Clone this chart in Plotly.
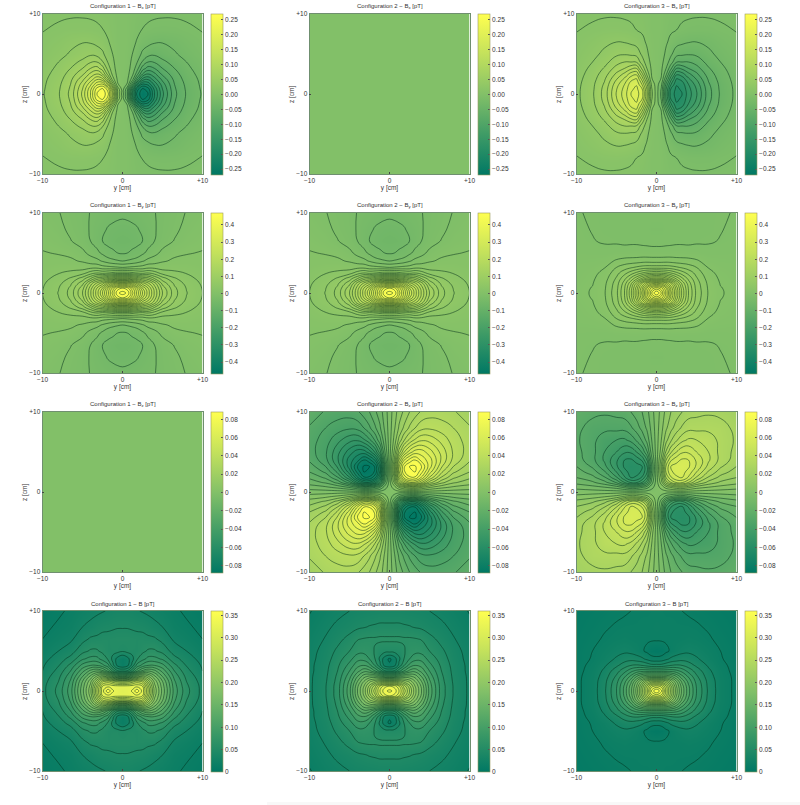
import plotly.graph_objects as go

# Quadrant tables: rows follow |z|, columns follow |y| (values in pT)
GRID_CM = [0, 0.6, 1.2, 1.8, 2.5, 3.2, 4, 5, 6.5, 8, 10]

BX_C1 = [
 [0,.05,.16,.235,.265,.25,.19,.135,.075,.048,.028],
 [0,.045,.14,.22,.255,.24,.185,.13,.073,.047,.027],
 [0,.012,.08,.16,.215,.205,.165,.12,.07,.045,.026],
 [0,.006,.04,.10,.16,.17,.14,.105,.065,.042,.025],
 [0,.004,.022,.06,.11,.13,.115,.085,.058,.038,.023],
 [0,.003,.016,.04,.08,.098,.09,.07,.05,.034,.021],
 [0,.002,.013,.028,.052,.07,.068,.055,.042,.03,.018],
 [0,.002,.0095,.019,.034,.042,.046,.04,.032,.024,.015],
 [0,.001,.006,.011,.02,.024,.028,.029,.025,.018,.012],
 [0,.001,.004,.007,.0105,.0125,.014,.0145,.014,.012,.0095],
 [0,.001,.003,.005,.006,.0072,.008,.0085,.0085,.008,.007],
]
BX_C3 = [
 [0,.035,.115,.18,.197,.19,.16,.132,.078,.047,.025],
 [0,.032,.11,.172,.195,.186,.157,.129,.077,.046,.025],
 [0,.025,.095,.148,.188,.18,.15,.122,.073,.045,.024],
 [0,.012,.07,.125,.175,.165,.136,.11,.068,.042,.023],
 [0,.008,.045,.095,.145,.138,.115,.094,.06,.039,.021],
 [0,.006,.03,.065,.11,.105,.09,.078,.052,.035,.019],
 [0,.004,.02,.04,.068,.07,.07,.062,.043,.03,.017],
 [0,.003,.013,.026,.043,.046,.048,.046,.034,.025,.015],
 [0,.002,.008,.014,.022,.026,.029,.03,.026,.019,.012],
 [0,.001,.005,.008,.01,.0125,.014,.015,.0145,.012,.0095],
 [0,.001,.003,.005,.006,.0072,.008,.0085,.0085,.008,.007],
]
BY_C1 = [
 [.46,.445,.40,.345,.29,.24,.187,.13,.077,.051,.03],
 [.43,.42,.38,.33,.27,.23,.18,.122,.074,.049,.029],
 [.33,.325,.30,.265,.22,.195,.16,.103,.066,.044,.027],
 [.2,.2,.185,.17,.15,.14,.11,.08,.053,.037,.024],
 [.08,.08,.076,.07,.065,.07,.06,.042,.035,.029,.02],
 [.01,.012,.014,.016,.018,.024,.024,.021,.022,.02,.016],
 [-.03,-.028,-.025,-.02,-.012,-.004,0,.008,.013,.014,.013],
 [-.052,-.05,-.046,-.044,-.034,-.024,-.016,-.005,.006,.009,.011],
 [-.063,-.062,-.059,-.055,-.05,-.04,-.03,-.019,-.009,0,.006],
 [-.058,-.057,-.055,-.052,-.045,-.04,-.032,-.022,-.014,-.005,.002],
 [-.045,-.044,-.042,-.04,-.037,-.034,-.031,-.023,-.017,-.009,-.003],
]
BY_C3 = [
 [.47,.43,.365,.295,.225,.165,.11,.065,.028,.012,.003],
 [.42,.40,.35,.285,.22,.16,.108,.063,.027,.011,.003],
 [.33,.32,.29,.25,.195,.145,.1,.06,.025,.009,.002],
 [.22,.215,.2,.175,.145,.115,.085,.053,.021,.007,.001],
 [.13,.125,.12,.11,.095,.08,.063,.043,.015,.005,0],
 [.06,.06,.06,.058,.053,.047,.04,.03,.009,.002,-.001],
 [.022,.022,.023,.022,.02,.019,.018,.013,.001,-.002,-.003],
 [-.004,-.004,-.004,-.003,-.003,-.003,-.004,-.004,-.007,-.006,-.005],
 [-.015,-.015,-.014,-.014,-.013,-.013,-.013,-.012,-.011,-.0095,-.007],
 [-.016,-.016,-.015,-.015,-.015,-.015,-.014,-.014,-.013,-.0105,-.008],
 [-.015,-.015,-.015,-.014,-.014,-.014,-.014,-.014,-.013,-.0115,-.009],
]
BZ_C2 = [
 [0,0,0,0,0,0,0,0,0,0,0],
 [0,.006,.016,.022,.027,.028,.022,.016,.011,.008,.006],
 [0,.016,.04,.053,.062,.062,.052,.036,.023,.016,.012],
 [0,.022,.053,.07,.08,.08,.068,.05,.032,.022,.016],
 [0,.027,.062,.08,.085,.087,.077,.06,.04,.028,.021],
 [0,.028,.062,.08,.087,.088,.081,.066,.046,.033,.024],
 [0,.022,.052,.068,.077,.081,.073,.066,.05,.037,.028],
 [0,.016,.036,.05,.06,.066,.066,.06,.049,.038,.03],
 [0,.011,.023,.032,.04,.046,.05,.049,.043,.036,.03],
 [0,.008,.016,.022,.028,.033,.037,.038,.036,.033,.028],
 [0,.006,.012,.016,.021,.024,.028,.03,.03,.028,.022],
]
BZ_C3 = [
 [0,0,0,0,0,0,0,0,0,0,0],
 [0,.005,.012,.016,.02,.021,.017,.012,.009,.007,.005],
 [0,.012,.03,.039,.046,.046,.039,.028,.019,.014,.011],
 [0,.016,.039,.05,.056,.057,.05,.038,.026,.019,.015],
 [0,.02,.046,.056,.059,.059,.055,.045,.032,.024,.018],
 [0,.021,.046,.057,.059,.06,.058,.05,.037,.028,.021],
 [0,.017,.039,.05,.055,.058,.057,.05,.04,.031,.024],
 [0,.012,.028,.038,.045,.05,.05,.045,.039,.031,.025],
 [0,.009,.019,.026,.032,.037,.04,.039,.037,.031,.026],
 [0,.007,.014,.019,.024,.028,.031,.031,.031,.03,.025],
 [0,.005,.011,.015,.018,.021,.024,.025,.026,.025,.022],
]
B_C1 = [
 [.315,.32,.332,.355,.325,.27,.205,.16,.098,.065,.04],
 [.32,.32,.322,.326,.315,.26,.2,.157,.096,.063,.04],
 [.26,.265,.275,.29,.28,.235,.19,.15,.092,.06,.038],
 [.15,.155,.18,.205,.22,.2,.17,.135,.085,.056,.035],
 [.06,.062,.085,.115,.14,.15,.14,.115,.075,.05,.03],
 [.016,.025,.05,.08,.095,.105,.105,.095,.064,.044,.028],
 [.015,.024,.04,.058,.07,.08,.08,.073,.05,.038,.024],
 [.047,.05,.05,.05,.056,.062,.062,.055,.038,.03,.02],
 [.052,.052,.051,.05,.05,.048,.047,.04,.027,.022,.015],
 [.044,.044,.043,.042,.041,.038,.034,.03,.021,.017,.012],
 [.034,.034,.033,.031,.029,.027,.025,.022,.017,.013,.009],
]
B_C2 = [
 [.35,.34,.315,.28,.24,.20,.165,.115,.067,.044,.027],
 [.33,.325,.30,.265,.23,.195,.162,.113,.067,.044,.027],
 [.24,.24,.235,.22,.205,.18,.15,.108,.065,.043,.027],
 [.145,.148,.16,.17,.17,.16,.135,.10,.063,.042,.027],
 [.06,.062,.085,.105,.125,.13,.115,.09,.06,.041,.026],
 [.018,.025,.05,.073,.095,.105,.1,.08,.057,.04,.026],
 [.012,.022,.042,.06,.075,.085,.085,.07,.053,.038,.025],
 [.05,.05,.052,.058,.068,.07,.069,.06,.048,.036,.024],
 [.063,.063,.063,.062,.062,.061,.059,.05,.04,.031,.022],
 [.048,.048,.048,.047,.046,.044,.042,.038,.033,.027,.019],
 [.036,.036,.036,.035,.034,.033,.032,.03,.026,.022,.014],
]
B_C3 = [
 [.36,.335,.28,.235,.185,.145,.11,.075,.042,.022,.012],
 [.32,.31,.27,.228,.18,.142,.108,.074,.041,.022,.012],
 [.25,.245,.23,.2,.165,.13,.1,.07,.04,.022,.012],
 [.165,.165,.165,.155,.135,.11,.088,.063,.037,.021,.012],
 [.10,.10,.10,.10,.095,.085,.07,.054,.033,.02,.011],
 [.05,.05,.055,.06,.062,.06,.053,.042,.028,.018,.011],
 [.02,.021,.027,.033,.037,.04,.038,.032,.023,.016,.01],
 [.004,.006,.012,.017,.022,.025,.027,.025,.02,.015,.01],
 [.017,.017,.017,.018,.018,.019,.02,.019,.016,.013,.009],
 [.019,.018,.018,.018,.017,.017,.017,.016,.014,.011,.008],
 [.017,.017,.016,.016,.016,.015,.014,.013,.011,.009,.007],
]
FLAT = [[0] * len(GRID_CM) for _ in GRID_CM]

COMPONENTS = ["B<sub>x</sub>", "B<sub>y</sub>", "B<sub>z</sub>", "B"]
TICK_VALS = [
 [-.25,-.2,-.15,-.1,-.05,0,.05,.1,.15,.2,.25],
 [-.4,-.3,-.2,-.1,0,.1,.2,.3,.4],
 [-.08,-.06,-.04,-.02,0,.02,.04,.06,.08],
 [0,.05,.1,.15,.2,.25,.3,.35],
]
TICK_TEXT = [
 ["−0.25","−0.20","−0.15","−0.10","−0.05","0.00","0.05","0.10","0.15","0.20","0.25"],
 ["−0.4","−0.3","−0.2","−0.1","0","0.1","0.2","0.3","0.4"],
 ["−0.08","−0.06","−0.04","−0.02","0","0.02","0.04","0.06","0.08"],
 ["0","0.05","0.10","0.15","0.20","0.25","0.30","0.35"],
]
Z_RANGE = [(-.27,.27), (-.47,.47), (-.088,.088), (0,.36)]
LEVELS = [(-.25,.25,.02), (-.45,.45,.02), (-.087,.087,.006), (.015,.345,.015)]
PANELS = [
 [(BX_C1,"anti",1), (FLAT,1,1), (BX_C3,"anti",1)],
 [(BY_C1,1,1), (BY_C1,1,1), (BY_C3,1,1)],
 [(FLAT,1,1), (BZ_C2,-1,-1), (BZ_C3,-1,-1)],
 [(B_C1,1,1), (B_C2,1,1), (B_C3,1,1)],
]

W, H = 800, 805
COL_X = [42.5, 309.5, 576.5]
BAR_X = [211, 478, 745]
ROW_Y = [14, 213, 412, 611]
SIDE = 160
FONT = "Liberation Sans"
TXT = "#333333"
FS = 6
SCALE = [[0,"rgb(0,120,100)"],[.25,"rgb(62,155,102)"],[.5,"rgb(130,192,104)"],[.75,"rgb(195,225,92)"],[1,"rgb(255,255,80)"]]

full_axis = [-g for g in GRID_CM[:0:-1]] + GRID_CM

def unfold(table, sy, sz):
    """Mirror a quadrant table to all four quadrants."""
    if sy == "anti":
        left, right = 1, -1
    else:
        left, right = sy, 1
    rows = []
    for iz, fz in [(i, sz) for i in range(len(GRID_CM)-1, 0, -1)] + [(i, 1) for i in range(len(GRID_CM))]:
        row = table[iz]
        rows.append([fz*left*v for v in row[:0:-1]] + [fz*right*v for v in row])
    return rows

fig = go.Figure()
layout = dict(width=W, height=H, margin=dict(l=0,r=0,t=0,b=0,autoexpand=False), autosize=False,
              paper_bgcolor="white", plot_bgcolor="white", showlegend=False,
              font=dict(family=FONT, size=FS, color=TXT))
notes, shapes = [], []
n = 0
for r in range(4):
    for c in range(3):
        n += 1
        sfx = "" if n == 1 else str(n)
        table, sy, sz = PANELS[r][c]
        z = unfold(table, sy, sz)
        zmin, zmax = Z_RANGE[r]
        fig.add_trace(go.Heatmap(x=full_axis, y=full_axis, z=z, zmin=zmin, zmax=zmax, zsmooth="best",
            colorscale=SCALE, hoverinfo="skip", xaxis="x"+sfx, yaxis="y"+sfx,
            colorbar=dict(x=BAR_X[c]/W, xanchor="left", xpad=0, ypad=0, y=1-ROW_Y[r]/H, yanchor="top",
                          len=SIDE+1, lenmode="pixels", thickness=11.7, thicknessmode="pixels",
                          outlinecolor="#9a9a60", outlinewidth=.6, tickmode="array",
                          tickvals=TICK_VALS[r], ticktext=TICK_TEXT[r], ticks="inside", ticklen=2,
                          tickcolor="#555555", tickwidth=.5, tickfont=dict(family=FONT, size=FS+.5, color=TXT))))
        if table is not FLAT:
            s, e, d = LEVELS[r]
            fig.add_trace(go.Contour(x=full_axis, y=full_axis, z=z, showscale=False, autocontour=False,
                contours=dict(start=s, end=e, size=d, coloring="none"),
                line=dict(color="rgba(0,45,25,0.72)", width=.7, smoothing=1.3),
                hoverinfo="skip", xaxis="x"+sfx, yaxis="y"+sfx))
        axis = dict(range=[-10,10], tickmode="array", tickvals=[-10,0,10], ticktext=["−10","0","+10"],
                    ticks="inside", ticklen=2, tickwidth=.5, tickcolor="#444444", showgrid=False, zeroline=False,
                    showline=True, linecolor="#6f8f6f", linewidth=.8, mirror=True,
                    tickfont=dict(family=FONT, size=FS+.5, color=TXT))
        layout["xaxis"+sfx] = dict(axis, anchor="y"+sfx, domain=[COL_X[c]/W, (COL_X[c]+SIDE)/W],
                                   title=dict(text="y [cm]", font=dict(family=FONT,size=FS+.5,color=TXT), standoff=2))
        layout["yaxis"+sfx] = dict(axis, anchor="x"+sfx, domain=[1-(ROW_Y[r]+SIDE)/H, 1-ROW_Y[r]/H])
        notes.append(dict(text=f"Configuration {c+1} − {COMPONENTS[r]} [pT]", showarrow=False,
                          xref="paper", yref="paper", x=(COL_X[c]+SIDE/2)/W, y=1-(ROW_Y[r]-2)/H,
                          xanchor="center", yanchor="bottom", font=dict(family=FONT,size=FS,color=TXT)))
        notes.append(dict(text="z [cm]", showarrow=False, textangle=-90,
                          xref="paper", yref="paper", x=(COL_X[c]-17.5)/W, y=1-(ROW_Y[r]+SIDE/2)/H,
                          xanchor="center", yanchor="middle", font=dict(family=FONT,size=FS+.5,color=TXT)))
shapes.append(dict(type="rect", xref="paper", yref="paper", x0=267/W, x1=1, y0=0, y1=3/H,
                   fillcolor="#f8f8f8", line=dict(width=0), layer="below"))
layout["annotations"] = notes
layout["shapes"] = shapes
fig.update_layout(**layout)
fig.write_html("out.html", post_script="document.body.style.margin='0';", config=dict(displayModeBar=False))
